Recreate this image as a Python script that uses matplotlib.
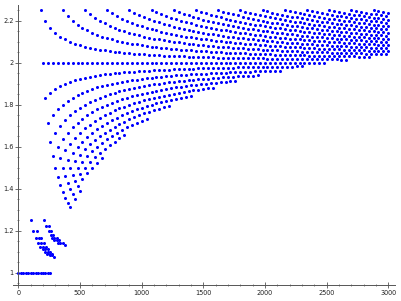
import matplotlib
matplotlib.use('Agg')
import matplotlib.pyplot as plt
from matplotlib.ticker import MultipleLocator, FuncFormatter

# --- data ---
# run of points sitting on y = 1 at the far left
bar_x = [0, 20, 40, 60, 80, 100, 120, 140, 160, 180, 200, 220, 240, 260]
bar_y = [1, 1, 1, 1, 1, 1, 1, 1, 1, 1, 1, 1, 1, 1]

# small wedge just above 1, two slanted bands
wedge_x = [100,
           122, 148,
           143, 166, 188,
           160, 182, 205,
           178, 200, 222,
           198, 220, 242,
           215, 238, 258,
           235, 258, 275,
           255, 275,
           289,
           205,
           222, 245,
           245, 262,
           262, 282,
           270, 290, 310,
           290, 310, 330,
           322, 340, 360,
           376]
wedge_y = [1.25,
           1.2, 1.2,
           1.1667, 1.1667, 1.1667,
           1.1429, 1.1429, 1.1429,
           1.125, 1.125, 1.125,
           1.1111, 1.1111, 1.1111,
           1.1, 1.1, 1.1,
           1.0909, 1.0909, 1.0909,
           1.0833, 1.0833,
           1.0769,
           1.25,
           1.2222, 1.2222,
           1.2, 1.2,
           1.1818, 1.1818,
           1.1667, 1.1667, 1.1667,
           1.1538, 1.1538, 1.1538,
           1.1429, 1.1429, 1.1429,
           1.1333]

# main cloud: one column per numerator, values num/den for den in [den_lo, den_hi]
col_num = list(range(9, 151))
col_x = [180, 200, 220, 240, 260, 280, 300, 320, 340, 360, 380, 400, 420, 440, 460, 480,
         500, 520, 540, 560, 580, 600, 620, 640, 660, 680, 700, 720, 740, 760, 780, 800,
         820, 840, 860, 880, 900, 920, 940, 960, 980, 1000, 1020, 1040, 1060, 1080, 1100,
         1120, 1140, 1160, 1180, 1200, 1220, 1240, 1260, 1280, 1300, 1320, 1340, 1360,
         1380, 1400, 1420, 1440, 1460, 1480, 1500, 1520, 1540, 1560, 1580, 1600, 1620,
         1640, 1660, 1680, 1700, 1720, 1740, 1760, 1780, 1800, 1820, 1840, 1860, 1880,
         1900, 1920, 1940, 1960, 1980, 2000, 2020, 2040, 2060, 2080, 2100, 2120, 2140,
         2160, 2180, 2200, 2220, 2240, 2260, 2280, 2300, 2320, 2340, 2360, 2380, 2400,
         2420, 2440, 2460, 2480, 2500, 2520, 2540, 2560, 2580, 2600, 2620, 2640, 2660,
         2680, 2700, 2720, 2740, 2760, 2780, 2800, 2820, 2840, 2860, 2880, 2900, 2920,
         2940, 2960, 2980, 3000]
den_lo = [4, 5, 5, 6, 6, 7, 7, 8, 8,
          8, 9, 9, 10, 10, 11, 11, 12, 12,
          12, 13, 13, 14, 14, 15, 15, 16, 16,
          16, 17, 17, 18, 18, 19, 19, 20, 20,
          20, 21, 21, 22, 22, 23, 23, 24, 24,
          24, 25, 25, 26, 26, 27, 27, 28, 28,
          28, 29, 29, 30, 30, 31, 31, 32, 32,
          32, 33, 33, 34, 34, 35, 35, 36, 36,
          36, 37, 37, 38, 38, 39, 39, 40, 40,
          40, 41, 41, 42, 42, 43, 43, 44, 44,
          44, 45, 45, 46, 46, 47, 47, 48, 48,
          48, 49, 49, 50, 50, 51, 51, 52, 52,
          52, 53, 53, 54, 54, 55, 55, 56, 56,
          56, 57, 57, 58, 58, 59, 59, 60, 60,
          60, 61, 61, 62, 62, 63, 63, 64, 64,
          64, 65, 65, 66, 66, 67, 67]
den_hi = [4, 5, 6, 7, 8, 9, 10, 11, 12, 13, 14,
          15, 16, 16, 17, 17, 18, 18,
          18, 19, 19, 20, 20, 21, 21, 22, 22,
          22, 23, 23, 24, 24, 25, 25, 26, 26,
          26, 27, 27, 28, 28, 29, 29, 30, 30,
          30, 31, 31, 32, 32, 33, 33, 34, 34,
          34, 35, 35, 36, 36, 37, 37, 38, 38,
          38, 39, 39, 40, 40, 41, 41, 42, 42,
          42, 43, 43, 44, 44, 45, 45, 46, 46,
          46, 47, 47, 48, 48, 49, 49, 50, 50,
          50, 51, 51, 52, 52, 53, 53, 54, 54,
          54, 55, 55, 56, 56, 57, 57, 58, 58,
          58, 59, 59, 60, 60, 61, 61, 62, 62,
          62, 63, 63, 64, 64, 65, 65, 66, 66,
          66, 67, 67, 68, 68, 69, 69, 70, 70,
          70, 71, 71, 72, 72, 73, 73]

dot_color = '#0000ff'
axis_color = '#555555'


def cloud_points():
    xs, ys = [], []
    for x, m, lo, hi in zip(col_x, col_num, den_lo, den_hi):
        for k in range(lo, hi + 1):
            xs.append(x)
            ys.append(m / k)
    return xs, ys


def fmt(v, _pos):
    return '%g' % round(v, 3)


fig = plt.figure(figsize=(4.02, 3.01), dpi=100)
ax = fig.add_axes([0.0331, 0.0532, 0.9495, 0.9302])

cx, cy = cloud_points()
for xs, ys in [(bar_x, bar_y), (wedge_x, wedge_y), (cx, cy)]:
    ax.plot(xs, ys, 'o', color=dot_color, markersize=2.2, markeredgewidth=0, clip_on=False)

ax.set_xlim(-40.5, 3054)
ax.set_ylim(0.942, 2.275)

for side in ['top', 'right']:
    ax.spines[side].set_visible(False)
ax.spines['left'].set_position(('data', 0))
for side in ['left', 'bottom']:
    ax.spines[side].set_color(axis_color)
    ax.spines[side].set_linewidth(0.7)

ax.xaxis.set_major_locator(MultipleLocator(500))
ax.xaxis.set_minor_locator(MultipleLocator(100))
ax.yaxis.set_major_locator(MultipleLocator(0.2))
ax.yaxis.set_minor_locator(MultipleLocator(0.05))
ax.xaxis.set_major_formatter(FuncFormatter(fmt))
ax.yaxis.set_major_formatter(FuncFormatter(fmt))
ax.tick_params(which='major', direction='inout', length=4, width=0.6, color=axis_color,
               labelsize=4.7, labelcolor='#222222', pad=1.5)
ax.tick_params(which='minor', direction='inout', length=2, width=0.5, color=axis_color)

fig.savefig('out.png', dpi=100)
